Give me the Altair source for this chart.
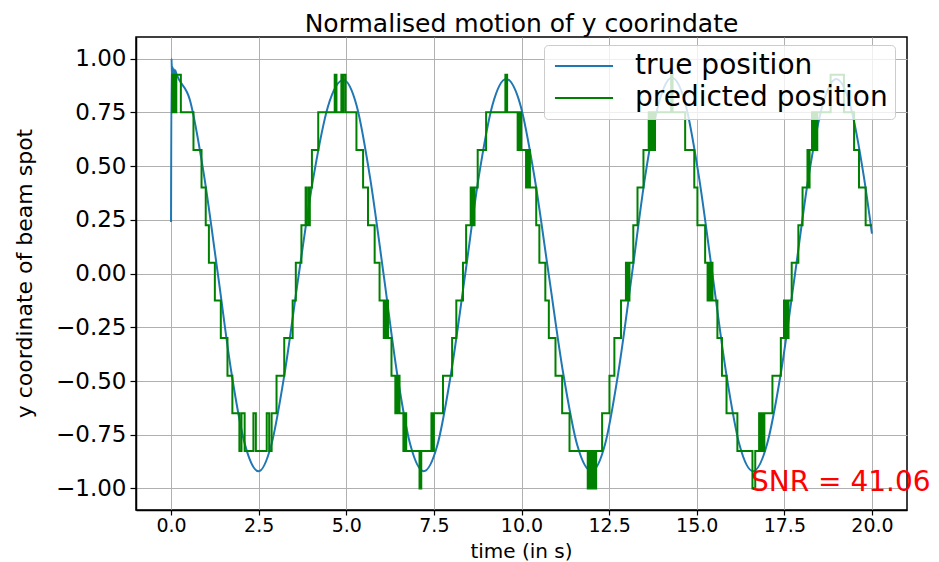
import altair as alt
import pandas as pd

series_names = ["true position", "predicted position"]
series_colors = ["#1f77b4", "#008000"]

x_ticks = [0.0, 2.5, 5.0, 7.5, 10.0, 12.5, 15.0, 17.5, 20.0]
y_ticks = [-1.0, -0.75, -0.5, -0.25, 0.0, 0.25, 0.5, 0.75, 1.0]

true_t = [0.0, 0.015, 0.03, 0.045, 0.06, 0.08, 0.10, 0.12, 0.15,
          0.54, 0.93, 1.33, 1.72, 2.11, 2.50,
          2.86, 3.24, 3.64, 4.06, 4.48, 4.92,
          5.30, 5.68, 6.07, 6.45, 6.83, 7.21,
          7.60, 7.99, 8.39, 8.78, 9.17, 9.56,
          9.97, 10.37, 10.78, 11.19, 11.59, 12.0,
          12.38, 12.76, 13.15, 13.53, 13.91, 14.29,
          14.68, 15.06, 15.45, 15.84, 16.22, 16.61,
          17.0, 17.40, 17.80, 18.19, 18.59, 18.98,
          19.38, 19.77, 20.0]
true_y = [0.24, 1.0, 0.90, 0.96, 0.91, 0.95, 0.92, 0.945, 0.93,
          0.806, 0.468, 0.005, -0.458, -0.796, -0.92,
          -0.798, -0.465, -0.01, 0.445, 0.778, 0.90,
          0.778, 0.445, -0.01, -0.465, -0.798, -0.92,
          -0.798, -0.464, -0.008, 0.449, 0.783, 0.905,
          0.783, 0.449, -0.008, -0.464, -0.798, -0.92,
          -0.797, -0.463, -0.005, 0.453, 0.787, 0.91,
          0.787, 0.453, -0.005, -0.463, -0.797, -0.92,
          -0.798, -0.464, -0.008, 0.449, 0.783, 0.905,
          0.783, 0.449, 0.185]

pred_t = [0.00, 0.03, 0.05, 0.06, 0.09, 0.10, 0.14, 0.15, 0.28, 0.64,
          0.87, 0.99, 1.08, 1.25, 1.42, 1.61, 1.75, 1.95, 2.01, 2.10,
          2.35, 2.42, 2.73, 2.80, 2.87, 3.01, 3.23, 3.47, 3.56, 3.72,
          3.84, 3.86, 3.92, 3.94, 3.96, 4.02, 4.20, 4.67, 4.72, 4.86,
          4.89, 4.92, 4.98, 5.29, 5.48, 5.62, 5.81, 5.95, 6.07, 6.10,
          6.14, 6.16, 6.19, 6.29, 6.40, 6.43, 6.47, 6.49, 6.52, 6.63,
          6.66, 6.71, 7.09, 7.14, 7.43, 7.46, 7.50, 7.76, 8.02, 8.14,
          8.33, 8.42, 8.55, 8.58, 8.61, 8.63, 8.66, 8.75, 8.99, 9.54,
          9.59, 9.89, 9.91, 9.94, 9.96, 9.99, 10.13, 10.16, 10.19, 10.21,
          10.24, 10.42, 10.51, 10.68, 10.78, 10.97, 11.16, 11.37, 11.89, 11.92,
          11.95, 11.98, 12.01, 12.05, 12.08, 12.13, 12.30, 12.51, 12.65, 12.84,
          12.98, 13.00, 13.03, 13.05, 13.08, 13.19, 13.31, 13.48, 13.63, 13.66,
          13.69, 13.72, 13.75, 13.78, 13.81, 14.27, 14.31, 14.67, 14.93, 15.02,
          15.24, 15.31, 15.34, 15.38, 15.41, 15.45, 15.59, 15.72, 15.85, 16.16,
          16.59, 16.67, 16.78, 16.81, 16.86, 16.89, 16.93, 17.16, 17.40, 17.49,
          17.52, 17.55, 17.58, 17.62, 17.71, 17.90, 18.02, 18.16, 18.19, 18.22,
          18.29, 18.32, 18.36, 18.39, 18.44, 18.82, 19.20, 19.49, 19.63, 19.82,
          20.0]
pred_y = [0.75, 0.925, 0.75, 0.925, 0.75, 0.925, 0.75, 0.925, 0.75, 0.575,
          0.40, 0.225, 0.05, -0.125, -0.30, -0.475, -0.65, -0.825, -0.65, -0.825,
          -0.65, -0.825, -0.65, -0.825, -0.65, -0.475, -0.30, -0.125, 0.05, 0.225,
          0.40, 0.225, 0.40, 0.225, 0.40, 0.575, 0.75, 0.925, 0.75, 0.925,
          0.75, 0.925, 0.75, 0.575, 0.40, 0.225, 0.05, -0.125, -0.30, -0.125,
          -0.30, -0.125, -0.30, -0.475, -0.65, -0.475, -0.65, -0.475, -0.65, -0.825,
          -0.65, -0.825, -1.0, -0.825, -0.65, -0.825, -0.65, -0.475, -0.30, -0.125,
          0.05, 0.225, 0.40, 0.225, 0.40, 0.225, 0.40, 0.575, 0.75, 0.925,
          0.75, 0.575, 0.75, 0.575, 0.75, 0.575, 0.40, 0.575, 0.40, 0.575,
          0.40, 0.225, 0.05, -0.125, -0.30, -0.475, -0.65, -0.825, -1.0, -0.825,
          -1.0, -0.825, -1.0, -0.825, -1.0, -0.825, -0.65, -0.475, -0.30, -0.125,
          0.05, -0.125, 0.05, -0.125, 0.05, 0.225, 0.40, 0.575, 0.75, 0.575,
          0.75, 0.575, 0.75, 0.575, 0.75, 0.925, 0.75, 0.575, 0.40, 0.225,
          0.05, -0.125, 0.05, -0.125, 0.05, -0.125, -0.30, -0.475, -0.65, -0.825,
          -1.0, -0.825, -0.65, -0.825, -0.65, -0.825, -0.65, -0.475, -0.30, -0.125,
          -0.30, -0.125, -0.30, -0.125, 0.05, 0.225, 0.40, 0.575, 0.40, 0.575,
          0.75, 0.575, 0.75, 0.575, 0.75, 0.925, 0.75, 0.575, 0.40, 0.225,
          0.225]

snr_label = ["SNR = 41.06"]
snr_x = [16.55]
snr_y = [-0.975]

FONT = "DejaVu Sans"

true_df = pd.DataFrame({"t": true_t, "y": true_y, "series": series_names[0]})
pred_df = pd.DataFrame({"t": pred_t, "y": pred_y, "series": series_names[1]})
snr_df = pd.DataFrame({"x": snr_x, "y": snr_y, "label": snr_label})

x_scale = alt.Scale(domain=[-1, 21], nice=False, zero=False)
y_scale = alt.Scale(domain=[-1.1, 1.1], nice=False, zero=False)

x_axis = alt.Axis(values=x_ticks, format=".1f", title="time (in s)",
                  titleX=385, titleY=47, titleBaseline="alphabetic", titleAlign="center",
                  labelPadding=1, labelFontSize=19, titleFontSize=20, tickSize=5)
y_axis = alt.Axis(values=y_ticks, format=".2f", title="y coordinate of beam spot",
                  titleX=-112, titleY=236, titleBaseline="middle", titleAlign="center",
                  titleAngle=-90, labelPadding=4, labelFontSize=23, titleFontSize=22,
                  tickSize=6)

color = alt.Color(
    "series:N",
    scale=alt.Scale(domain=series_names, range=series_colors),
    legend=alt.Legend(
        title=None, orient="none", legendX=408, legendY=8,
        symbolType="M-2.5,0H2.5", symbolSize=540, symbolStrokeWidth=2,
        symbolOffset=19, labelOffset=37, labelLimit=500,
        labelFont=FONT, labelFontSize=28, labelColor="black",
        fillColor="rgba(255,255,255,0.8)", strokeColor="#cccccc",
        cornerRadius=4, padding=7, rowPadding=4,
    ),
)

true_line = alt.Chart(true_df).mark_line(strokeWidth=2, interpolate="monotone").encode(
    x=alt.X("t:Q", scale=x_scale, axis=x_axis),
    y=alt.Y("y:Q", scale=y_scale, axis=y_axis),
    color=color,
)

pred_line = alt.Chart(pred_df).mark_line(strokeWidth=2, interpolate="step-after").encode(
    x=alt.X("t:Q", scale=x_scale),
    y=alt.Y("y:Q", scale=y_scale),
    color=color,
)

snr_text = alt.Chart(snr_df).mark_text(
    align="left", baseline="middle", font=FONT, fontSize=28, color="red"
).encode(
    x=alt.X("x:Q", scale=x_scale),
    y=alt.Y("y:Q", scale=y_scale),
    text="label:N",
)

chart = alt.layer(true_line, pred_line, snr_text).properties(
    width=771,
    height=473,
    autosize=alt.AutoSizeParams(type="none"),
    padding={"left": 128, "top": 29, "right": 24, "bottom": 53},
    title=alt.TitleParams(
        "Normalised motion of y coorindate",
        font=FONT, fontSize=25, fontWeight="normal", color="black",
        anchor="middle", offset=0,
    ),
).configure_axis(
    labelFont=FONT, labelColor="black",
    titleFont=FONT, titleColor="black", titleFontWeight="normal",
    domainColor="black", domainWidth=1.5,
    tickColor="black", tickWidth=1.2,
    gridColor="#b0b0b0", gridWidth=1, grid=True,
).configure_view(
    stroke="black", strokeWidth=1.5,
)

chart.save("out.html", embed_options={"renderer": "svg", "actions": False})
